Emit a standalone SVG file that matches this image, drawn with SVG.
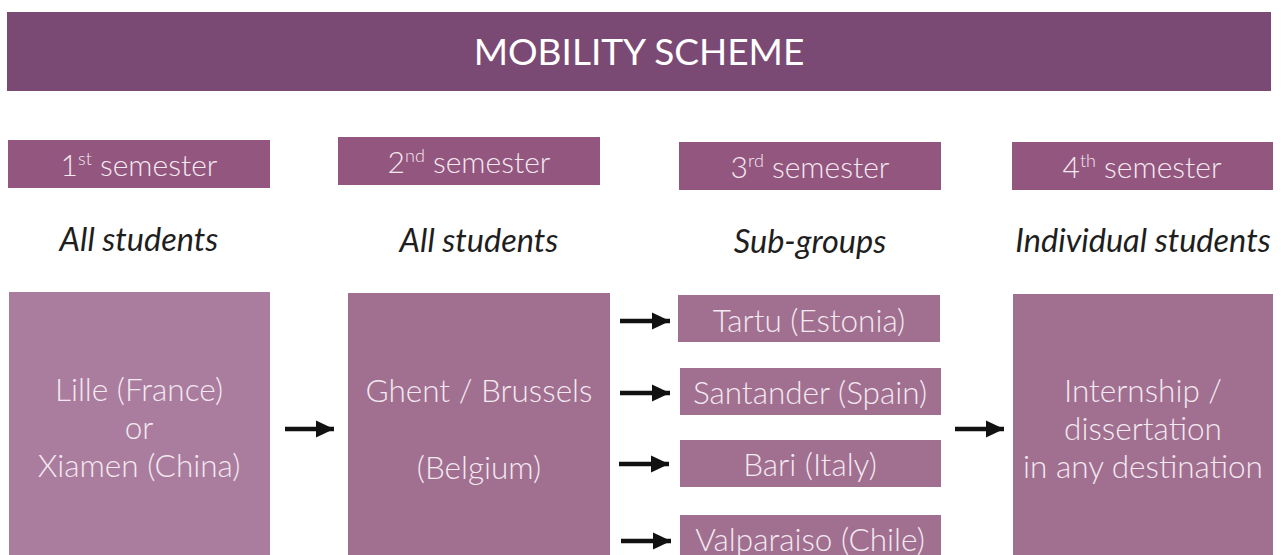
<svg xmlns="http://www.w3.org/2000/svg" width="1281" height="555" viewBox="0 0 1281 555">
<defs>
<style>
.sem{fill:#93567f}
.box{fill:#a17090}
.box1{fill:#aa7d9f}
.t{font-family:"Lato Light",Lato,"Open Sans","Liberation Sans",sans-serif;font-weight:300;fill:#f3e9f0;font-size:31.5px;text-anchor:middle}
.st{font-family:"Lato Light",Lato,"Open Sans","Liberation Sans",sans-serif;font-weight:300;fill:#f3e9f0;font-size:30px;text-anchor:middle}
.sub{font-family:Lato,"Open Sans","Liberation Sans",sans-serif;font-style:italic;font-weight:400;fill:#1e1e1e;font-size:32.5px;text-anchor:middle}
.title{font-family:Lato,"Open Sans","Liberation Sans",sans-serif;font-weight:400;fill:#ffffff;font-size:37px;text-anchor:middle}
.arr{stroke:#111;stroke-width:4.5;fill:none}
</style>
<marker id="ah" markerUnits="userSpaceOnUse" markerWidth="20" markerHeight="20" viewBox="0 0 20 20" refX="18" refY="10" orient="auto">
<path d="M0,1.5 L18,10 L0,18.5 Z" fill="#111"/>
</marker>
</defs>
<rect width="1281" height="555" fill="#ffffff"/>
<g id="banner">
<rect x="7" y="12" width="1264" height="79" fill="#7b4a74"/>
<text class="title" x="639" y="65">MOBILITY SCHEME</text>
</g>
<g id="sem1">
<rect class="sem" x="8" y="140" width="262" height="48"/>
<text class="st" x="139" y="176">1<tspan font-size="18" dy="-11">st</tspan><tspan dy="11"> semester</tspan></text>
</g>
<g id="sem2">
<rect class="sem" x="338" y="137" width="262" height="48"/>
<text class="st" x="469" y="173">2<tspan font-size="18" dy="-11">nd</tspan><tspan dy="11"> semester</tspan></text>
</g>
<g id="sem3">
<rect class="sem" x="679" y="142" width="262" height="48"/>
<text class="st" x="810" y="178">3<tspan font-size="18" dy="-11">rd</tspan><tspan dy="11"> semester</tspan></text>
</g>
<g id="sem4">
<rect class="sem" x="1012" y="142" width="261" height="48"/>
<text class="st" x="1142" y="178">4<tspan font-size="18" dy="-11">th</tspan><tspan dy="11"> semester</tspan></text>
</g>
<g id="labels">
<text class="sub" x="139" y="251">All students</text>
<text class="sub" x="479" y="252">All students</text>
<text class="sub" x="810" y="253">Sub-groups</text>
<text class="sub" x="1143" y="252">Individual students</text>
</g>
<g id="lille">
<rect class="box1" x="9" y="292" width="261" height="263"/>
<text class="t" x="139" y="401">Lille (France)</text>
<text class="t" x="139" y="439">or</text>
<text class="t" x="139" y="477">Xiamen (China)</text>
</g>
<g id="ghent">
<rect class="box" x="348" y="293" width="262" height="262"/>
<text class="t" x="479" y="402">Ghent / Brussels</text>
<text class="t" x="479" y="479">(Belgium)</text>
</g>
<g id="tartu">
<rect class="box" x="678" y="295" width="262" height="47"/>
<text class="t" x="809" y="332">Tartu (Estonia)</text>
</g>
<g id="santander">
<rect class="box" x="680" y="368" width="261" height="47"/>
<text class="t" x="810" y="404">Santander (Spain)</text>
</g>
<g id="bari">
<rect class="box" x="680" y="440" width="261" height="47"/>
<text class="t" x="810" y="476">Bari (Italy)</text>
</g>
<g id="valparaiso">
<rect class="box" x="680" y="515" width="261" height="45"/>
<text class="t" x="810" y="551">Valparaiso (Chile)</text>
</g>
<g id="internship">
<rect class="box" x="1013" y="294" width="260" height="261"/>
<text class="t" x="1143" y="402">Internship /</text>
<text class="t" x="1143" y="440">dissertation</text>
<text class="t" x="1143" y="478">in any destination</text>
</g>
<g id="connectors">
<line class="arr" x1="285" y1="429" x2="334" y2="429" marker-end="url(#ah)"/>
<line class="arr" x1="620" y1="321" x2="670" y2="321" marker-end="url(#ah)"/>
<line class="arr" x1="620" y1="393" x2="670" y2="393" marker-end="url(#ah)"/>
<line class="arr" x1="619" y1="464" x2="669" y2="464" marker-end="url(#ah)"/>
<line class="arr" x1="621" y1="541" x2="671" y2="541" marker-end="url(#ah)"/>
<line class="arr" x1="955" y1="429" x2="1004" y2="429" marker-end="url(#ah)"/>
</g>
</svg>
